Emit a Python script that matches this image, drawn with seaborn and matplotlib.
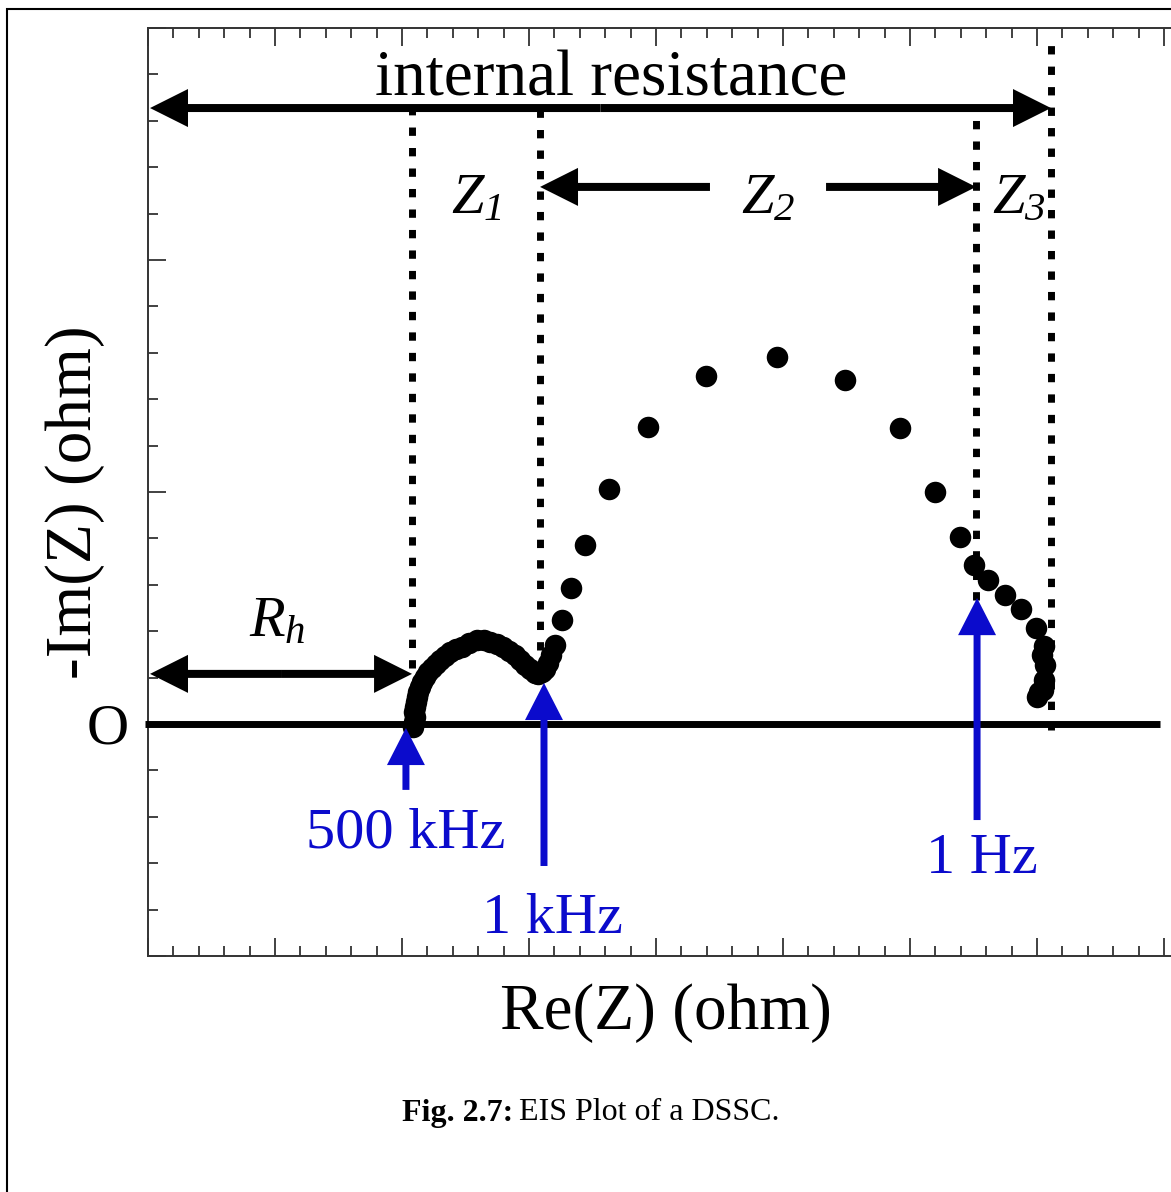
import numpy as np
import pandas as pd
import matplotlib
matplotlib.use("Agg")
import matplotlib.pyplot as plt
import seaborn as sns
from matplotlib.ticker import MultipleLocator
from matplotlib.patches import Rectangle

# ---- data (arbitrary ohm units) ----
re_z = [20.87, 20.94, 21.02, 20.94, 21.02, 21.10, 21.18, 21.26, 21.42, 21.57,
        21.81, 22.05, 22.36, 22.68, 22.99, 23.39, 23.78, 24.25, 24.72, 25.28,
        25.91, 26.46, 26.93, 27.48, 27.95, 28.43, 28.90, 29.29, 29.69, 30.08,
        30.47, 30.71, 31.02, 31.26, 31.50, 31.73, 32.05, 32.60,
        33.31, 34.41, 36.30, 39.37, 43.94, 49.53, 54.88, 59.21, 61.97, 63.94,
        65.04, 66.14, 67.48, 68.74, 69.92, 70.55, 70.39, 70.63, 70.55, 70.47,
        70.16, 70.00]
im_z = [-0.13, 0.09, 0.30, 0.52, 0.73, 0.95, 1.16, 1.38, 1.59, 1.81,
        2.03, 2.24, 2.41, 2.59, 2.76, 2.93, 3.10, 3.23, 3.32, 3.49,
        3.62, 3.62, 3.53, 3.45, 3.32, 3.15, 2.97, 2.76, 2.54, 2.37,
        2.20, 2.16, 2.24, 2.37, 2.63, 2.97, 3.41, 4.48,
        5.86, 7.72, 10.13, 12.80, 15.00, 15.82, 14.83, 12.76, 10.00, 8.06,
        6.85, 6.21, 5.56, 4.96, 4.14, 3.36, 2.97, 2.54, 1.90, 1.47,
        1.38, 1.16]

# vertical dotted markers (x, y_bottom, y_top)
marker_x = [20.79, 30.87, 65.20, 71.10]
marker_ybot = [2.41, 3.19, 5.34, -0.26]
marker_ytop = [26.55, 26.55, 26.55, 29.57]

# frequency annotations
freq_labels = ["500 kHz", "1 kHz", "1 Hz"]
freq_x = [20.31, 31.18, 65.28]
freq_tip = [-0.17, 1.77, 5.43]
freq_tail = [-2.84, -6.12, -4.14]
freq_text_x = [20.31, 31.81, 65.67]
freq_text_y = [-5.34, -9.01, -6.42]

sns.set_theme(style="ticks")
plt.rcParams["font.family"] = ["Liberation Serif", "DejaVu Serif"]
plt.rcParams["mathtext.fontset"] = "custom"
plt.rcParams["mathtext.it"] = "Liberation Serif:italic"
plt.rcParams["mathtext.sf"] = "Liberation Serif:italic"
plt.rcParams["mathtext.rm"] = "Liberation Serif"
plt.rcParams["mathtext.default"] = "it"
plt.rcParams["text.color"] = "black"
plt.rcParams["axes.labelcolor"] = "black"
plt.rcParams["xtick.color"] = "#333333"
plt.rcParams["ytick.color"] = "#333333"
plt.rcParams["xtick.labelcolor"] = "black"
plt.rcParams["ytick.labelcolor"] = "black"

W, H = 1171, 1192
fig = plt.figure(figsize=(W / 100, H / 100), dpi=100)
fig.patch.set_facecolor("white")
ax = fig.add_axes([148 / W, 1 - 956 / H, (1172 - 148) / W, (956 - 28) / H])

df = pd.DataFrame({"Re": re_z, "Im": im_z})
sns.scatterplot(data=df, x="Re", y="Im", ax=ax, color="black", s=240,
                linewidth=0, zorder=5, legend=False)

ax.set_xlim(0, 80.63)
ax.set_ylim(-10, 30)

# ticks
ax.xaxis.set_major_locator(MultipleLocator(10))
ax.xaxis.set_minor_locator(MultipleLocator(2))
ax.set_yticks([-10, 0, 10, 20, 30])
ax.set_yticklabels(["", "O", "", "", ""], fontsize=42, color="black")
ax.yaxis.set_minor_locator(MultipleLocator(2))
ax.tick_params(axis="both", which="both", direction="in", top=True,
               right=False, labelbottom=False, width=1.3, color="#333333")
ax.tick_params(axis="both", which="major", length=13)
ax.tick_params(axis="both", which="minor", length=7.5)
ax.tick_params(axis="y", which="major", pad=14)
for s in ["left", "top", "bottom"]:
    ax.spines[s].set_linewidth(1.4)
    ax.spines[s].set_color("#333333")
ax.spines["right"].set_visible(False)

# zero line
ax.plot([-0.25, 79.7], [0, 0], color="black", lw=5, clip_on=False,
        solid_capstyle="butt", zorder=3)

# dotted vertical lines
for x, y0, y1 in zip(marker_x, marker_ybot, marker_ytop):
    ax.plot([x, x], [y0, y1], color="black", lw=5,
            linestyle=(0, (1.2, 1.75)), zorder=2)

# black arrows
def harrow(x_tail, x_tip, y):
    ax.arrow(x_tail, y, x_tip - x_tail, 0, width=0.345, head_width=1.64,
             head_length=2.99, length_includes_head=True, color="black",
             lw=0, zorder=4)

# internal resistance
mid = (0.16 + 71.10) / 2
harrow(mid, 0.16, 26.55)
harrow(mid, 71.10, 26.55)
# Z2
harrow(44.25, 30.87, 23.15)
harrow(53.39, 65.20, 23.15)
# Rh
mid = (0.16 + 20.79) / 2
harrow(mid, 0.16, 2.16)
harrow(mid, 20.79, 2.16)

# blue frequency arrows
blue = "#0b0bcc"
for x, tip, tail, lab, tx, ty in zip(freq_x, freq_tip, freq_tail, freq_labels,
                                     freq_text_x, freq_text_y):
    ax.arrow(x, tail, 0, tip - tail, width=0.55, head_width=2.99,
             head_length=1.6, length_includes_head=True, color=blue, lw=0,
             zorder=6)
    ax.text(tx, ty, lab, color=blue, fontsize=42, ha="center", va="baseline")

# texts
ax.text(36.46, 27.11, "internal resistance", fontsize=47, ha="center",
        va="baseline", color="black")
ax.text(25.83, 22.03, r"$Z_{\mathsf{1}}$", fontsize=42, ha="center", va="baseline")
ax.text(48.82, 22.03, r"$Z_{\mathsf{2}}$", fontsize=42, ha="center", va="baseline")
ax.text(68.58, 22.03, r"$Z_{\mathsf{3}}$", fontsize=42, ha="center", va="baseline")
ax.text(10.16, 3.79, r"$R_h$", fontsize=42, ha="center", va="baseline")

ax.set_xlabel("Re(Z) (ohm)", fontsize=47, color="black")
ax.xaxis.label.set_va("center")
ax.xaxis.set_label_coords((666 - 148) / 1024, (956 - 1013) / 928)
ax.set_ylabel("-Im(Z) (ohm)", fontsize=47, color="black")
ax.yaxis.label.set_va("center")
ax.yaxis.set_label_coords((75 - 148) / 1024, (956 - 502) / 928)

# caption
fig.text(513 / W, 1 - 1113 / H, "Fig. 2.7:", fontsize=23, fontweight="bold",
         ha="right", va="center", color="black")
fig.text(519 / W, 1 - 1113 / H, "EIS Plot of a DSSC.", fontsize=23,
         ha="left", va="center", color="black")

# figure frame
fig.patches.append(Rectangle((7 / W, -0.05), 1.2, 1.05 - 9 / H,
                             transform=fig.transFigure, fill=False,
                             lw=1.5, ec="black"))

fig.savefig("out.png", dpi=100)
